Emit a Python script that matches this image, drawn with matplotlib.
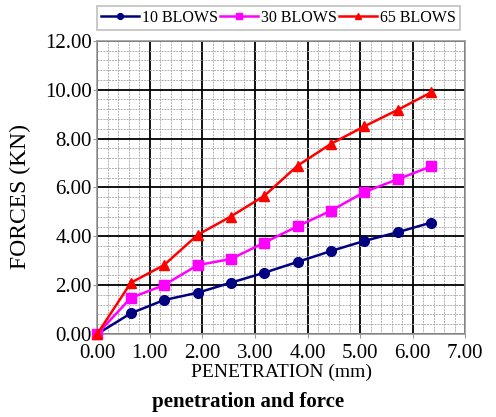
import numpy as np
import matplotlib.pyplot as plt
from matplotlib.ticker import MultipleLocator, FormatStrFormatter

plt.rcParams['font.family'] = ['Liberation Serif', 'DejaVu Serif']

# 贯入量 (mm)
penetration = [0.00, 0.64, 1.27, 1.91, 2.54, 3.18, 3.81, 4.45, 5.08, 5.72, 6.35]
# 各击实次数下的力 (KN)
blows_10 = [0.00, 0.85, 1.39, 1.69, 2.10, 2.51, 2.95, 3.40, 3.81, 4.17, 4.56]
blows_30 = [0.00, 1.48, 2.00, 2.82, 3.07, 3.74, 4.41, 5.05, 5.81, 6.34, 6.86]
blows_65 = [0.00, 2.10, 2.82, 4.06, 4.81, 5.66, 6.89, 7.79, 8.50, 9.18, 9.89]
labels = ['10 BLOWS', '30 BLOWS', '65 BLOWS']

fig = plt.figure(figsize=(4.96, 4.17), dpi=100)
ax = fig.add_axes([0.196, 0.199, 0.742, 0.703])

ax.plot(penetration, blows_10, color='#000080', marker='o', markersize=7, lw=1.8,
        label=labels[0], clip_on=False, zorder=3)
ax.plot(penetration, blows_30, color='#ff00ff', marker='s', markersize=7, lw=1.8,
        label=labels[1], clip_on=False, zorder=3)
ax.plot(penetration, blows_65, color='#ff0000', marker='^', markersize=7, lw=1.8,
        label=labels[2], clip_on=False, zorder=3)

ax.set_xlim(0, 7)
ax.set_ylim(0, 12)
ax.xaxis.set_major_locator(MultipleLocator(1))
ax.yaxis.set_major_locator(MultipleLocator(2))
ax.xaxis.set_minor_locator(MultipleLocator(0.2))
ax.yaxis.set_minor_locator(MultipleLocator(0.4))
ax.xaxis.set_major_formatter(FormatStrFormatter('%.2f'))
ax.yaxis.set_major_formatter(FormatStrFormatter('%.2f'))

# 网格：主网格黑色实线，次网格灰色虚线
ax.grid(which='minor', color='#b0b0b0', linestyle=(0, (2, 1)), linewidth=0.7)
ax.grid(which='major', color='black', linewidth=1.3)
ax.set_axisbelow(True)
for s in ax.spines.values():
    s.set_color('#999999')
    s.set_linewidth(1.2)
ax.tick_params(which='major', length=3, color='#999999', labelsize=15, labelcolor='black')
ax.tick_params(axis='x', which='major', pad=4)
ax.tick_params(axis='y', which='major', pad=1)
ax.tick_params(which='minor', length=0)

ax.set_xlabel('PENETRATION (mm)', fontsize=14, labelpad=1)
ax.set_ylabel('FORCES (KN)', fontsize=17)
ax.yaxis.set_label_coords(-0.18, 0.47)

leg = ax.legend(loc='lower center', bbox_to_anchor=(0.492, 1.01), ncol=3, fontsize=11.5,
                frameon=True, fancybox=False, edgecolor='#b0b0b0', handlelength=2.4,
                handletextpad=0.2, columnspacing=0.1, borderpad=0.25, markerscale=0.6)
leg.get_frame().set_linewidth(1.2)

fig.text(0.5, 0.025, 'penetration and force', ha='center', va='baseline',
         fontsize=15, fontweight='bold')

fig.savefig('out.png', dpi=100)
